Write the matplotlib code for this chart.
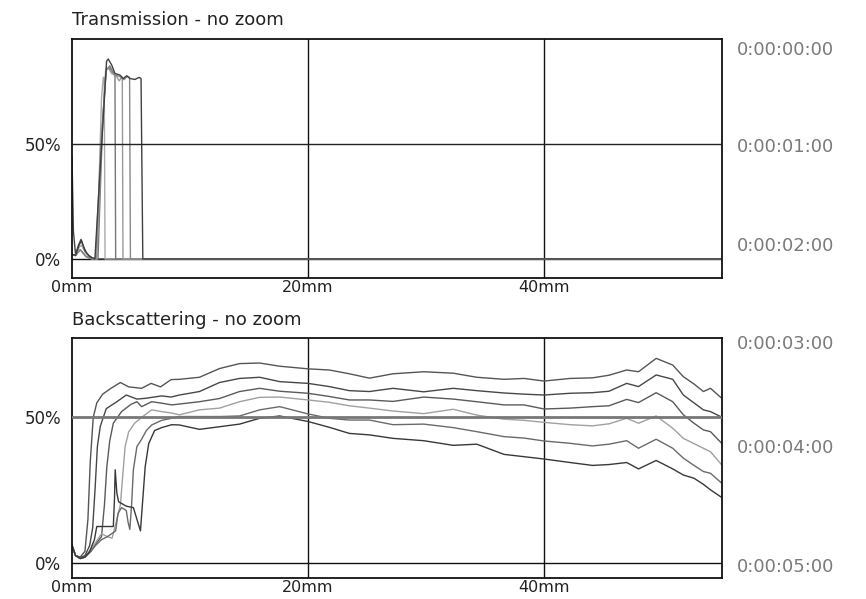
import matplotlib
matplotlib.use("Agg")
import matplotlib.pyplot as plt

# ── Transmission curves (x in mm, y in %) ───────────────────────
tr0_x = [0, 0.12, 0.3, 0.55, 0.76, 1.0, 1.3, 1.7, 2.0, 55]
tr0_y = [44, 12, 2, 6, 8.5, 5, 2, 0.5, 0, 0]
tr1_x = [0, 0.3, 0.6, 0.8, 1.1, 1.5, 2.1, 2.5, 2.65, 2.73, 2.8, 55]
tr1_y = [2, 1.5, 5, 6, 3, 0.5, 0, 70, 79, 79, 0, 0]
tr2_x = [0, 0.3, 0.7, 1.2, 1.7, 2.2, 2.6, 2.9, 3.2, 3.4, 3.56, 3.64, 3.7, 55]
tr2_y = [2, 1.5, 4, 1, 0, 0, 60, 82, 84, 82, 80.5, 80, 0, 0]
tr3_x = [0, 0.3, 0.7, 1.2, 1.7, 2.1, 2.5, 2.85, 3.1, 3.35, 3.7, 4.0, 4.2, 4.26, 4.32, 55]
tr3_y = [2, 1.5, 4, 1, 0, 0, 50, 82, 83, 80.7, 80, 77.5, 79, 79, 0, 0]
tr4_x = [0, 0.3, 0.7, 1.2, 1.7, 2.0, 2.45, 2.9, 3.2, 3.6, 4.0, 4.4, 4.7, 4.88, 4.95, 55]
tr4_y = [2, 1.5, 4, 1, 0, 0, 50, 83, 83, 80, 79.5, 78, 79.5, 79, 0, 0]
tr5_x = [0, 0.3, 0.6, 0.8, 1.1, 1.5, 1.94, 2.93, 3.07, 3.36, 3.64, 4.07, 4.35,
         4.63, 4.91, 5.34, 5.68, 5.85, 6.0, 55]
tr5_y = [2, 1.5, 6, 8, 3.5, 1, 0, 86, 87, 84.4, 80.7, 80, 78.5,
         79.7, 78.5, 78.1, 79, 78.5, 0, 0]

tr_series = [(tr0_x, tr0_y), (tr1_x, tr1_y), (tr2_x, tr2_y),
             (tr3_x, tr3_y), (tr4_x, tr4_y), (tr5_x, tr5_y)]
tr_colors = ["#444444", "#aaaaaa", "#777777", "#999999", "#888888", "#404040"]

# ── Backscattering curves ───────────────────────────────────────
# left part (rise region), per curve
bs_a_lx = [0, 0.3, 0.7, 1.1, 1.35, 1.55, 1.8, 2.1, 2.6, 3.3, 4.1, 4.8, 5.9, 6.7, 7.5, 8.4]
bs_a_ly = [6, 2.5, 2, 4, 15, 35, 50, 55, 58, 60, 62, 60.5, 60, 61.7, 60.5, 63]
bs_b_lx = [0, 0.3, 0.7, 1.1, 1.5, 1.75, 1.95, 2.15, 2.4, 2.9, 3.8, 4.6, 5.5, 6.3, 7.6, 8.4]
bs_b_ly = [6, 2.5, 1.8, 2.5, 6, 12, 25, 40, 47, 53, 55.4, 57.7, 56.3, 56.6, 57.4, 57]
bs_c_lx = [0, 0.3, 0.7, 1.1, 1.6, 2.1, 2.5, 2.75, 2.95, 3.2, 3.5, 4.2, 5.0, 5.5, 5.9, 6.75, 7.6, 8.45]
bs_c_ly = [6, 2.5, 1.5, 2, 4, 7, 9, 20, 33, 42, 48, 52, 54.5, 55.4, 53.7, 55.4, 54.9, 54.3]
bs_d_lx = [0, 0.3, 0.7, 1.1, 1.5, 2.0, 2.5, 3.0, 3.4, 3.8, 4.1, 4.3, 4.5, 4.8, 5.3, 5.9, 6.75, 7.6, 8.45]
bs_d_ly = [6, 2.5, 1.5, 2, 4, 7, 10, 9, 8.5, 15, 20, 30, 40, 45, 48, 50, 52.6, 52, 51.5]
bs_e_lx = [0, 0.3, 0.7, 1.1, 1.5, 2.0, 2.5, 3.0, 3.7, 3.9, 4.2, 4.6, 4.75, 4.9, 5.05,
           5.2, 5.5, 5.9, 6.3, 6.75, 7.6, 8.45]
bs_e_ly = [6, 2.5, 1.5, 2, 3.5, 6, 8, 9, 11, 17, 19, 18, 14, 11.5, 20,
           32, 40, 42.5, 45.5, 47.4, 49, 49.7]
bs_f_lx = [0, 0.3, 0.7, 1.1, 1.5, 1.9, 2.1, 3.5, 3.6, 3.66, 3.8, 3.95, 4.6, 5.2, 5.5,
           5.8, 6.0, 6.2, 6.5, 7.0, 7.6, 8.45]
bs_f_ly = [6, 2.5, 1.5, 2, 4, 8, 12.5, 12.5, 22, 32, 24, 21, 19.5, 19, 15,
           11, 22, 33, 41, 45.5, 46.5, 47.5]

# right part, shared x grid
bs_rx = [9.1, 10.8, 12.5, 14.2, 15.9, 17.6, 20.0, 21.8, 23.5, 25.2, 27.2, 29.8, 32.3,
         34.3, 36.6, 38.3, 40.0, 42.2, 44.1, 45.5, 47.0, 48.0, 49.5, 50.9, 51.8,
         52.7, 53.5, 54.1, 55.05]
bs_a_ry = [63.1, 63.8, 66.8, 68.5, 68.7, 67.6, 66.7, 66.3, 65.0, 63.5, 65.0, 65.7, 65.2,
           63.8, 63.1, 63.4, 62.5, 63.4, 63.6, 64.5, 66.3, 65.7, 70.3, 68.0, 64.0,
           61.5, 58.9, 60.0, 56.6]
bs_b_ry = [57.7, 58.9, 62.0, 63.4, 63.8, 62.3, 61.7, 60.6, 59.2, 58.9, 60.0, 58.8, 60.0,
           59.2, 58.4, 58.0, 57.7, 58.3, 58.5, 59.0, 61.7, 60.6, 64.6, 63.1, 57.7,
           55.0, 52.6, 52.0, 50.1]
bs_c_ry = [54.6, 55.4, 56.5, 58.9, 60.0, 59.0, 58.3, 57.2, 56.0, 56.0, 55.5, 57.0, 56.3,
           55.4, 54.3, 54.3, 52.9, 53.2, 53.7, 54.0, 56.2, 55.1, 58.5, 55.4, 50.9,
           48.0, 45.7, 45.1, 41.1]
bs_d_ry = [50.9, 52.6, 53.2, 55.4, 56.9, 57.0, 56.0, 55.2, 54.0, 53.2, 52.2, 51.3, 52.8,
           50.8, 49.4, 49.0, 48.3, 47.5, 47.1, 47.8, 49.7, 48.0, 50.5, 46.3, 42.8,
           41.0, 39.4, 38.2, 33.7]
bs_e_ry = [50.3, 50.3, 50.3, 50.5, 52.6, 53.7, 51.2, 49.7, 49.1, 49.1, 47.5, 47.7, 46.5,
           45.1, 43.4, 42.9, 41.9, 41.1, 40.2, 40.8, 42.0, 39.4, 42.5, 39.4, 36.0,
           33.5, 31.4, 30.8, 27.4]
bs_f_ry = [47.4, 45.9, 46.8, 47.7, 49.7, 50.5, 48.6, 46.6, 44.5, 44.0, 42.8, 42.0, 40.4,
           40.8, 37.3, 36.5, 35.7, 34.5, 33.5, 33.8, 34.5, 32.3, 35.2, 32.3, 30.2,
           29.1, 27.0, 25.1, 22.5]

bs_series = [(bs_a_lx, bs_a_ly, bs_a_ry), (bs_b_lx, bs_b_ly, bs_b_ry),
             (bs_c_lx, bs_c_ly, bs_c_ry), (bs_d_lx, bs_d_ly, bs_d_ry),
             (bs_e_lx, bs_e_ly, bs_e_ry), (bs_f_lx, bs_f_ly, bs_f_ry)]
bs_colors = ["#555555", "#474747", "#5a5a5a", "#a0a0a0", "#6a6a6a", "#383838"]

x_ticks = [0, 20, 40]
x_labels = ["0mm", "20mm", "40mm"]
y_ticks = [0, 50]
y_labels = ["0%", "50%"]
time_labels = ["0:00:00:00", "0:00:01:00", "0:00:02:00",
               "0:00:03:00", "0:00:04:00", "0:00:05:00"]
time_label_px = [50, 147, 246, 344, 448, 567]

W, H = 866, 599
fig = plt.figure(figsize=(W / 100, H / 100), dpi=100)
plt.rcParams["font.family"] = ["DejaVu Sans"]
txt = "#222222"

ax_t = fig.add_axes([72 / W, 1 - 278 / H, (721.7 - 72) / W, (278 - 39) / H])
ax_b = fig.add_axes([72 / W, 1 - 578 / H, (721.7 - 72) / W, (578 - 338) / H])


def style(ax, ylim, mid_color, mid_lw):
    ax.set_xlim(0, 55.05)
    ax.set_ylim(*ylim)
    for sp in ax.spines.values():
        sp.set_color("#111111")
        sp.set_linewidth(1.3)
    ax.set_xticks(x_ticks)
    ax.set_xticklabels(x_labels)
    ax.set_yticks(y_ticks)
    ax.set_yticklabels(y_labels)
    ax.tick_params(length=0, labelsize=12, labelcolor=txt)
    ax.tick_params(axis="x", pad=1.5, labelsize=11.5)
    ax.tick_params(axis="y", pad=8)
    for xv in (20, 40):
        ax.axvline(xv, color="#111111", lw=1.0, zorder=1)
    ax.axhline(0, color="#111111", lw=1.0, zorder=1)
    ax.axhline(50, color=mid_color, lw=mid_lw, zorder=3)


style(ax_t, (-8.3, 95.7), "#222222", 1.0)
style(ax_b, (-5.2, 77.3), "#777777", 2.0)

for (xs, ys), c in zip(tr_series, tr_colors):
    ax_t.plot(xs, ys, color=c, lw=1.0, zorder=2)

for (lx, ly, ry), c in zip(bs_series, bs_colors):
    ax_b.plot(lx + bs_rx, ly + ry, color=c, lw=1.0, zorder=2)

fig.text(72 / W, 1 - 20 / H, "Transmission - no zoom", fontsize=13,
         color=txt, ha="left", va="center")
fig.text(72 / W, 1 - 320 / H, "Backscattering - no zoom", fontsize=13,
         color=txt, ha="left", va="center")

for lab, py in zip(time_labels, time_label_px):
    fig.text(737 / W, 1 - py / H, lab, fontsize=13, color="#7a7a7a",
             ha="left", va="center")

fig.savefig("out.png", dpi=100)
